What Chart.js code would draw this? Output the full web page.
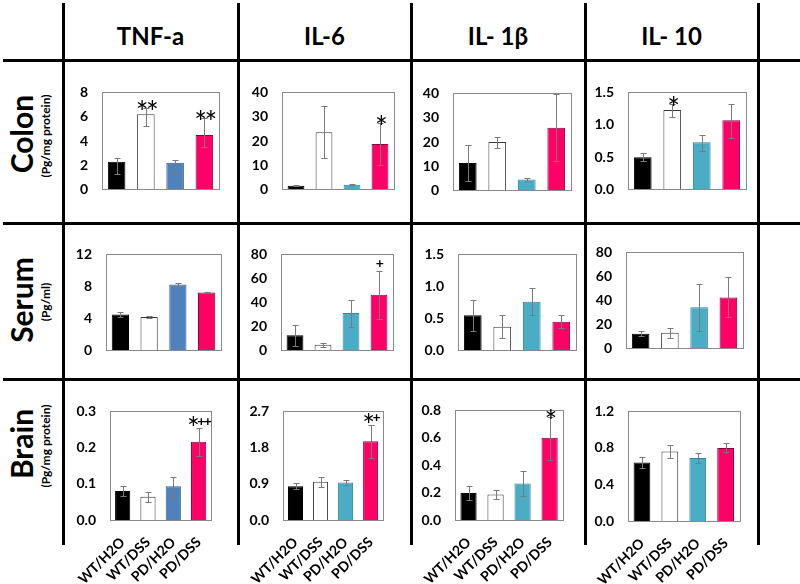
<!doctype html>
<html>
<head>
<meta charset="utf-8">
<title>Cytokines by tissue</title>
<script src="https://cdn.jsdelivr.net/npm/chart.js@4.4.0/dist/chart.umd.min.js"></script>
<style>
body { margin: 0; background: #fff; }
#wrap { position: relative; width: 800px; height: 584px; overflow: hidden; font-family: Lato, "Open Sans", sans-serif; color: #000; }
.vl { position: absolute; width: 3px; background: #000; top: 3px; height: 542px; }
.hl { position: absolute; height: 3px; background: #000; left: 3px; width: 797px; }
.hdr { position: absolute; font-weight: bold; font-size: 24px; line-height: 1; transform: translate(-50%, -50%); white-space: nowrap; }
.tis { position: absolute; font-weight: bold; font-size: 30px; line-height: 1; transform: translate(-50%, -50%) rotate(-90deg); white-space: nowrap; }
.unit { position: absolute; font-weight: bold; font-size: 12px; line-height: 1; transform: translate(-50%, -50%) rotate(-90deg); white-space: nowrap; }
canvas { position: absolute; }
</style>
</head>
<body>
<div id="wrap"></div>
<script>
var groups = ['WT/H2O', 'WT/DSS', 'PD/H2O', 'PD/DSS'];
var cytokines = ['TNF-a', 'IL-6', 'IL- 1\u03b2', 'IL- 10'];
var tissues = ['Colon', 'Serum', 'Brain'];
var units = ['(Pg/mg protein)', '(Pg/ml)', '(Pg/mg protein)'];

// colon
var colonTNF = [2.3, 6.2, 2.2, 4.5];
var colonTNFErr = [[1.3, 2.6], [5.2, 6.7], [1.2, 2.45], [3.5, 5.9]];
var colonTNFSig = ['', '**', '', '**'];
var colonTNFTicks = ['0', '2', '4', '6', '8'];

var colonIL6 = [1.6, 23.6, 2.0, 18.8];
var colonIL6Err = [[1.4, 1.8], [13.0, 34.4], [1.8, 2.3], [10.3, 27.3]];
var colonIL6Sig = ['', '', '', '*'];
var colonIL6Ticks = ['0', '10', '20', '30', '40'];

var colonIL1b = [11.4, 20.0, 4.6, 25.9];
var colonIL1bErr = [[4.1, 18.6], [17.7, 22.2], [4.1, 5.1], [12.0, 39.8]];
var colonIL1bSig = ['', '', '', ''];
var colonIL1bTicks = ['0', '10', '20', '30', '40'];

var colonIL10 = [0.50, 1.23, 0.73, 1.07];
var colonIL10Err = [[0.44, 0.56], [1.12, 1.32], [0.60, 0.85], [0.80, 1.32]];
var colonIL10Sig = ['', '*', '', ''];
var colonIL10Ticks = ['0.0', '0.5', '1.0', '1.5'];

// serum
var serumTNF = [4.5, 4.2, 8.25, 7.25];
var serumTNFErr = [[4.25, 4.8], [4.05, 4.35], [8.05, 8.45], [7.18, 7.32]];
var serumTNFSig = ['', '', '', ''];
var serumTNFTicks = ['0', '4', '8', '12'];

var serumIL6 = [12.8, 4.8, 31.3, 46.5];
var serumIL6Err = [[3.8, 21.4], [2.9, 6.3], [20.0, 42.3], [26.6, 66.3]];
var serumIL6Sig = ['', '', '', '+'];
var serumIL6Ticks = ['0', '20', '40', '60', '80'];

var serumIL1b = [0.55, 0.37, 0.76, 0.45];
var serumIL1bErr = [[0.31, 0.79], [0.19, 0.55], [0.56, 0.97], [0.35, 0.56]];
var serumIL1bSig = ['', '', '', ''];
var serumIL1bTicks = ['0.0', '0.5', '1.0', '1.5'];

var serumIL10 = [12.3, 13.2, 34.4, 42.5];
var serumIL10Err = [[10.1, 14.5], [9.0, 17.2], [15.0, 53.6], [25.9, 59.3]];
var serumIL10Sig = ['', '', '', ''];
var serumIL10Ticks = ['0', '20', '40', '60', '80'];

// brain
var brainTNF = [0.080, 0.064, 0.093, 0.216];
var brainTNFErr = [[0.066, 0.093], [0.050, 0.078], [0.066, 0.120], [0.178, 0.254]];
var brainTNFSig = ['', '', '', '*++'];
var brainTNFTicks = ['0.0', '0.1', '0.2', '0.3'];

var brainIL6 = [0.84, 0.95, 0.93, 1.96];
var brainIL6Err = [[0.77, 0.92], [0.83, 1.06], [0.87, 0.99], [1.54, 2.37]];
var brainIL6Sig = ['', '', '', '*+'];
var brainIL6Ticks = ['0.0', '0.9', '1.8', '2.7'];

var brainIL1b = [0.197, 0.186, 0.267, 0.60];
var brainIL1bErr = [[0.146, 0.245], [0.153, 0.22], [0.175, 0.356], [0.44, 0.75]];
var brainIL1bSig = ['', '', '', '*'];
var brainIL1bTicks = ['0.0', '0.2', '0.4', '0.6', '0.8'];

var brainIL10 = [0.64, 0.76, 0.69, 0.80];
var brainIL10Err = [[0.58, 0.70], [0.69, 0.83], [0.64, 0.74], [0.75, 0.85]];
var brainIL10Sig = ['', '', '', ''];
var brainIL10Ticks = ['0.0', '0.4', '0.8', '1.2'];

var panels = [
  [colonTNF, colonTNFErr, colonTNFSig, colonTNFTicks],
  [colonIL6, colonIL6Err, colonIL6Sig, colonIL6Ticks],
  [colonIL1b, colonIL1bErr, colonIL1bSig, colonIL1bTicks],
  [colonIL10, colonIL10Err, colonIL10Sig, colonIL10Ticks],
  [serumTNF, serumTNFErr, serumTNFSig, serumTNFTicks],
  [serumIL6, serumIL6Err, serumIL6Sig, serumIL6Ticks],
  [serumIL1b, serumIL1bErr, serumIL1bSig, serumIL1bTicks],
  [serumIL10, serumIL10Err, serumIL10Sig, serumIL10Ticks],
  [brainTNF, brainTNFErr, brainTNFSig, brainTNFTicks],
  [brainIL6, brainIL6Err, brainIL6Sig, brainIL6Ticks],
  [brainIL1b, brainIL1bErr, brainIL1bSig, brainIL1bTicks],
  [brainIL10, brainIL10Err, brainIL10Sig, brainIL10Ticks]
];

// plot boxes [left, top, right, bottom] for each cell
var boxes = [
  [[102, 80, 219, 202], [282, 80, 394, 202], [453, 81, 571, 203], [628, 80, 746, 202]],
  [[106, 242, 221, 363], [281, 242, 393, 363], [458, 242, 576, 363], [626, 240, 743, 361]],
  [[110, 399, 221, 520], [283, 399, 393, 520], [455, 398, 572, 520], [628, 399, 748, 521]]
];

var wrap = document.getElementById('wrap');

function addDiv(cls, txt, x, y) {
  var d = document.createElement('div');
  d.className = cls;
  d.textContent = txt;
  d.style.left = x + 'px';
  d.style.top = y + 'px';
  wrap.appendChild(d);
}

// table lines
[63, 238, 411, 585, 758].forEach(function (x) {
  var d = document.createElement('div');
  d.className = 'vl';
  d.style.left = (x - 1.5) + 'px';
  wrap.appendChild(d);
});
[60, 223, 379].forEach(function (y) {
  var d = document.createElement('div');
  d.className = 'hl';
  d.style.top = (y - 1.5) + 'px';
  wrap.appendChild(d);
});

[150.5, 324.5, 498, 671.5].forEach(function (x, i) { addDiv('hdr', cytokines[i], x, 36); });
[134, 300, 444].forEach(function (y, i) {
  addDiv('tis', tissues[i], 21, y);
  addDiv('unit', units[i], 46, y + 2);
});

function drawSig(ctx, text, cx, cy) {
  var parts = text.split('').map(function (ch) {
    return { ch: ch, font: ch === '*' ? '30px Lato' : 'bold 14px Lato' };
  });
  var total = 0;
  parts.forEach(function (p) { ctx.font = p.font; p.m = ctx.measureText(p.ch); total += p.m.width * 0.8; });
  var x = cx - total / 2;
  ctx.fillStyle = '#000';
  ctx.textAlign = 'left';
  ctx.textBaseline = 'alphabetic';
  parts.forEach(function (p) {
    ctx.font = p.font;
    var base = cy + (p.m.actualBoundingBoxAscent - p.m.actualBoundingBoxDescent) / 2;
    ctx.fillText(p.ch, x, base);
    x += p.m.width * 0.8;
  });
}

function extrasPlugin(err, sig) {
  return {
    id: 'extras',
    afterDatasetsDraw: function (chart) {
      var ctx = chart.ctx, a = chart.chartArea, ys = chart.scales.y;
      var meta = chart.getDatasetMeta(0);
      ctx.save();
      ctx.strokeStyle = '#7a7a7a';
      ctx.lineWidth = 1;
      meta.data.forEach(function (bar, i) {
        var x = Math.round(bar.x) + 0.5;
        var y1 = Math.round(ys.getPixelForValue(err[i][0])) + 0.5;
        var y2 = Math.round(ys.getPixelForValue(err[i][1])) + 0.5;
        ctx.beginPath();
        ctx.moveTo(x, y1); ctx.lineTo(x, y2);
        ctx.moveTo(x - 3, y1); ctx.lineTo(x + 3, y1);
        ctx.moveTo(x - 3, y2); ctx.lineTo(x + 3, y2);
        ctx.stroke();
      });
      ctx.strokeStyle = '#8a8a8a';
      ctx.strokeRect(Math.round(a.left) + 0.5, Math.round(a.top) + 0.5,
        Math.round(a.right - a.left), Math.round(a.bottom - a.top));
      meta.data.forEach(function (bar, i) {
        if (!sig[i]) return;
        var lift = sig[i].indexOf('+') >= 0 ? 7 : 3;
        drawSig(ctx, sig[i], bar.x, ys.getPixelForValue(err[i][1]) - lift);
      });
      ctx.restore();
    }
  };
}

var yw = 50, padT = 10, padB = 10, xh = 63;

panels.forEach(function (p, k) {
  var row = Math.floor(k / 4), col = k % 4;
  var b = boxes[row][col];
  var brain = row === 2;
  var vals = p[0], err = p[1], sig = p[2], ticks = p[3];
  var tickVals = ticks.map(parseFloat);

  var w = yw + (b[2] - b[0]) + 4;
  var h = padT + (b[3] - b[1]) + (brain ? xh : padB);
  var cv = document.createElement('canvas');
  cv.width = w; cv.height = h;
  cv.style.left = (b[0] - yw) + 'px';
  cv.style.top = (b[1] - padT) + 'px';
  wrap.appendChild(cv);

  var pd = col === 0 ? '#4f81bd' : '#4bacc6';
  var pdEdge = col === 0 ? '#385d8a' : '#31859c';

  new Chart(cv, {
    type: 'bar',
    data: {
      labels: groups,
      datasets: [{
        data: vals,
        backgroundColor: ['#000000', '#ffffff', pd, '#ff0066'],
        borderColor: ['#000000', '#3a3a3a', pdEdge, '#8c0038'],
        borderWidth: 1,
        barPercentage: 0.6,
        categoryPercentage: 1.0
      }]
    },
    options: {
      responsive: false,
      animation: false,
      devicePixelRatio: 1,
      events: [],
      layout: { padding: { top: padT, right: 4, left: 0, bottom: brain ? 0 : padB } },
      plugins: { legend: { display: false }, tooltip: { enabled: false } },
      scales: {
        x: {
          display: brain,
          grid: { display: false, drawTicks: false },
          border: { display: false },
          ticks: {
            autoSkip: false, minRotation: 45, maxRotation: 45, padding: 14,
            color: '#000', font: { family: 'Lato', weight: 'bold', size: 14 }
          },
          afterFit: function (s) { s.height = brain ? xh : 0; }
        },
        y: {
          min: tickVals[0],
          max: tickVals[tickVals.length - 1],
          grid: { display: false, drawTicks: false },
          border: { display: false },
          afterBuildTicks: function (s) { s.ticks = tickVals.map(function (v) { return { value: v }; }); },
          ticks: {
            padding: 14, color: '#000',
            font: { family: 'Lato', weight: 'bold', size: 14 },
            callback: function (v, i) { return ticks[i]; }
          },
          afterFit: function (s) { s.width = yw; }
        }
      }
    },
    plugins: [extrasPlugin(err, sig)]
  });
});
</script>
</body>
</html>
